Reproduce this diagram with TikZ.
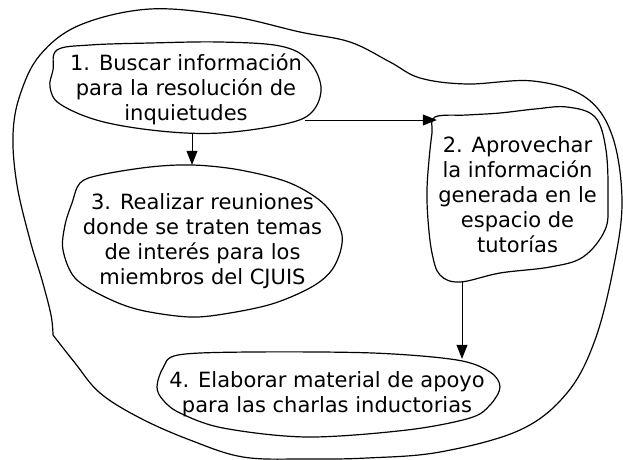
\documentclass[tikz,border=0pt]{standalone}
\usepackage{fontspec}
\setmainfont{DejaVu Sans}
\usetikzlibrary{arrows.meta,positioning,calc}
\tikzstyle{box} = [
    rectangle, text centered, align=center,
    inner sep=0pt,
    font=\fontsize{21}{25}\selectfont,
]
\tikzstyle{outline} = [
    line width=1.2pt,
    line join=round,
]
\tikzstyle{arrow} = [-{Triangle[length=14pt,width=11pt]}, line width=0.8pt]

\begin{document}
\begin{tikzpicture}[x=1pt,y=-1pt]
    \useasboundingbox (0,0) rectangle (623,459);

    % boxes
    \node (act1) at (186,89) [box,minimum width=272pt,minimum height=88pt] {1. Buscar información\\para la resolución de\\inquietudes};
    \node (act2) at (517.5,194.5) [box,minimum width=181pt,minimum height=175pt] {2. Aprovechar\\la información\\generada en le\\espacio de\\tutorías};
    \node (act3) at (202.5,241) [box,minimum width=281pt,minimum height=152pt] {3. Realizar reuniones\\donde se traten temas\\de interés para los\\miembros del CJUIS};
    \node (act4) at (327,394) [box,minimum width=340pt,minimum height=82pt] {4. Elaborar material de apoyo\\para las charlas inductorias};

    % outlines
    \draw [outline] plot [smooth cycle, tension=0.6] coordinates {
        (57,50) (90,45) (150,43) (220,42) (280,46) (308,60) (321,87) (312,112)
        (285,124) (220,133) (160,131) (100,121) (60,104) (50,87) (53,70)};
    \draw [outline] plot [smooth cycle, tension=0.6] coordinates {
        (435,117) (467,115) (500,113) (535,109) (567,107) (595,117) (606,150)
        (608,200) (605,230) (583,257) (550,267) (500,273) (460,282) (440,275)
        (432,253) (428,220) (427,190) (429,160) (432,133)};
    \draw [outline] plot [smooth cycle, tension=0.55] coordinates {
        (80,183) (100,175) (150,167) (193,165) (240,170) (290,183) (325,205)
        (342,235) (335,265) (315,285) (275,303) (230,313) (190,317) (140,310)
        (105,297) (75,278) (63,250) (65,225) (72,203)};
    \draw [outline] plot [smooth cycle, tension=0.55] coordinates {
        (157,387) (163,368) (178,355) (250,352) (373,353) (457,360) (490,372)
        (500,387) (490,405) (470,418) (407,430) (307,437) (223,428) (180,413)
        (163,400)};
    \draw [outline] plot [smooth, tension=0.6] coordinates {
        (53,335) (51,315) (42,280) (30,240) (17,185) (13,135) (20,95) (40,55)
        (80,25) (150,9) (230,16) (300,32) (350,42) (390,62) (420,78) (467,84)
        (533,81) (585,97) (612,135) (622,200) (614,265) (595,340) (567,393)
        (520,430) (440,452) (367,458) (305,459) (243,457) (190,440) (140,418)
        (100,393) (75,363) (53,335)};

    % arrows
    \draw [arrow] ([xshift=6pt]act1.south) to ([xshift=6pt]act1.south |- act3.north);
    \draw [arrow] ($(act1.east)+(-17,31)$) to ($(act2.west)+(10,-74.5)$);
    \draw [arrow] ($(act2.south)+(-55.5,0)$) to ($(act4.north)+(135,6)$);

\end{tikzpicture}
\end{document}
